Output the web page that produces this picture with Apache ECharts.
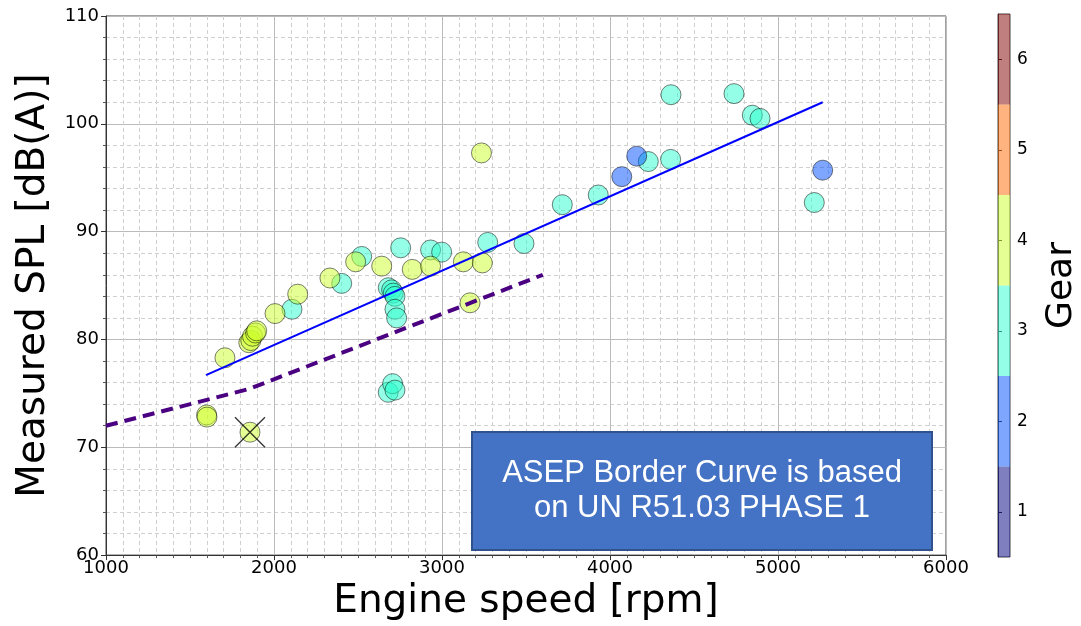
<!DOCTYPE html>
<html>
<head>
<meta charset="utf-8">
<script src="https://cdn.jsdelivr.net/npm/echarts@6/dist/echarts.min.js"></script>
<style>
  html, body { margin: 0; padding: 0; background: #fff; }
  #chart { width: 1081px; height: 626px; }
</style>
</head>
<body>
<div id="chart"></div>
<script>
// measured points, split by gear
var gear2Rpm = [4070, 4159, 5266]
var gear2Spl = [95.1, 97.0, 95.7]

var gear3Rpm = [2107, 2403, 2522, 2680, 2700, 2710, 2720, 2720, 2730, 2754, 2932, 2998, 3272, 3488,
  2680, 2706, 2720, 3716, 3930, 4228, 4361, 4363, 4738, 4847, 4893, 5216]
var gear3Spl = [82.8, 85.2, 87.7, 84.8, 84.6, 84.3, 84.0, 82.8, 82.0, 88.5, 88.3, 88.1, 89.0, 88.9,
  75.1, 75.9, 75.3, 92.5, 93.4, 96.5, 96.7, 102.7, 102.8, 100.8, 100.5, 92.7]

var gear4Rpm = [1599, 1601, 1857, 1708, 1850, 1862, 1872, 1890, 1897, 2006, 2141, 2333, 2486, 2641,
  2823, 2932, 3127, 3167, 3235, 3240]
var gear4Spl = [73.0, 72.8, 71.4, 78.3, 79.7, 79.9, 80.3, 80.6, 80.8, 82.4, 84.2, 85.7, 87.2, 86.8,
  86.5, 86.8, 87.2, 83.4, 97.3, 87.1]

// regression line and ASEP border curve
var trendRpm = [1595, 5266]
var trendSpl = [76.7, 102.0]
var borderRpm = [1000, 1850, 3600]
var borderSpl = [72.0, 75.4, 86.0]

// excluded point
var markerRpm = [1857]
var markerSpl = [71.4]

// colour bar levels
var gearLevels = [1, 2, 3, 4, 5, 6]
var gearColors = ['#000080', '#004dff', '#29ffce', '#ceff29', '#ff6800', '#800000']

function pairs(xs, ys) {
  return xs.map(function (x, i) { return [x, ys[i]] })
}

var chart = echarts.init(document.getElementById('chart'))

var font = 'DejaVu Sans'

function pointSeries(name, xs, ys, gear) {
  return {
    name: name,
    type: 'scatter',
    xAxisIndex: 0,
    yAxisIndex: 0,
    symbolSize: 20,
    data: pairs(xs, ys),
    itemStyle: {
      color: gearColors[gear - 1],
      borderColor: '#000',
      borderWidth: 1,
      opacity: 0.5
    },
    z: 2
  }
}

chart.setOption({
  backgroundColor: '#fff',
  animation: false,
  grid: [{
    left: 106,
    top: 16,
    width: 840,
    height: 543,
    show: true,
    borderColor: '#444',
    borderWidth: 1
  }, {
    left: 998,
    top: 14,
    width: 26,
    height: 543,
    show: true,
    borderColor: '#444',
    borderWidth: 1
  }],
  xAxis: [{
    gridIndex: 0,
    type: 'value',
    min: 1000,
    max: 6000,
    interval: 1000,
    name: 'Engine speed [rpm]',
    nameLocation: 'middle',
    nameGap: 26,
    nameTextStyle: { fontFamily: font, fontSize: 39, color: '#000' },
    axisLine: { show: true, lineStyle: { color: '#333', width: 1 } },
    axisTick: { show: true, length: 5, lineStyle: { color: '#333' } },
    minorTick: { show: true, splitNumber: 10, length: 3, lineStyle: { color: '#555' } },
    axisLabel: {
      fontFamily: font, fontSize: 18, color: '#000', margin: 4,
      formatter: function (v) { return String(v) }
    },
    splitLine: { show: true, lineStyle: { color: '#bbb', width: 1 } },
    minorSplitLine: { show: true, lineStyle: { color: '#d0d0d0', type: [4, 3], width: 1 } }
  }, {
    gridIndex: 1,
    type: 'value',
    min: 0,
    max: 1,
    show: false
  }],
  yAxis: [{
    gridIndex: 0,
    type: 'value',
    min: 60,
    max: 110,
    interval: 10,
    name: 'Measured SPL [dB(A)]',
    nameLocation: 'middle',
    nameGap: 46,
    nameTextStyle: { fontFamily: font, fontSize: 39, color: '#000' },
    axisLine: { show: true, lineStyle: { color: '#333', width: 1 } },
    axisTick: { show: true, length: 5, lineStyle: { color: '#333' } },
    minorTick: { show: true, splitNumber: 5, length: 3, lineStyle: { color: '#555' } },
    axisLabel: { fontFamily: font, fontSize: 18, color: '#000', margin: 7 },
    splitLine: { show: true, lineStyle: { color: '#bbb', width: 1 } },
    minorSplitLine: { show: true, lineStyle: { color: '#d0d0d0', type: [4, 3], width: 1 } }
  }, {
    gridIndex: 1,
    type: 'value',
    position: 'right',
    min: 0.5,
    max: 6.5,
    name: 'Gear',
    nameLocation: 'middle',
    nameRotate: 90,
    nameGap: 34,
    nameTextStyle: { fontFamily: font, fontSize: 36, color: '#000' },
    axisLine: { show: true, lineStyle: { color: '#444' } },
    axisTick: { show: true, length: 4, customValues: gearLevels, lineStyle: { color: '#333' } },
    axisLabel: { fontFamily: font, fontSize: 17, color: '#000', margin: 7, customValues: gearLevels },
    splitLine: { show: false }
  }],
  graphic: [{
    type: 'group',
    left: 471,
    top: 431,
    children: [{
      type: 'rect',
      z: 100,
      shape: { x: 0, y: 0, width: 460, height: 118 },
      style: { fill: '#4472c4', stroke: '#2f528f', lineWidth: 2 }
    }, {
      type: 'text',
      z: 101,
      x: 230,
      y: 59,
      style: {
        text: 'ASEP Border Curve is based\non UN R51.03 PHASE 1',
        fill: '#fff',
        font: '31px "Liberation Sans", Arial, sans-serif',
        lineHeight: 35,
        align: 'center',
        verticalAlign: 'middle'
      }
    }]
  }],
  series: [
    pointSeries('Gear 3', gear3Rpm, gear3Spl, 3),
    pointSeries('Gear 4', gear4Rpm, gear4Spl, 4),
    pointSeries('Gear 2', gear2Rpm, gear2Spl, 2),
    {
      name: 'Excluded',
      type: 'scatter',
      symbol: 'path://M0,0L10,10M10,0L0,10',
      symbolSize: 30,
      data: pairs(markerRpm, markerSpl),
      itemStyle: { color: 'none', borderColor: '#000', borderWidth: 1.3 },
      z: 4
    },
    {
      name: 'Trend',
      type: 'line',
      data: pairs(trendRpm, trendSpl),
      showSymbol: false,
      lineStyle: { color: '#0000ff', width: 2 },
      z: 3
    },
    {
      name: 'ASEP border',
      type: 'line',
      data: pairs(borderRpm, borderSpl),
      showSymbol: false,
      lineStyle: { color: '#4b0082', width: 4, type: [12, 7] },
      z: 3
    },
    {
      name: 'Colour bar',
      type: 'custom',
      xAxisIndex: 1,
      yAxisIndex: 1,
      data: gearLevels,
      renderItem: function (params, api) {
        var g = api.value(0)
        var p0 = api.coord([0, g + 0.5])
        var p1 = api.coord([1, g - 0.5])
        return {
          type: 'rect',
          shape: { x: p0[0], y: p0[1], width: p1[0] - p0[0], height: p1[1] - p0[1] },
          style: { fill: gearColors[g - 1], opacity: 0.5 }
        }
      },
      encode: { y: 0 },
      z: 1
    }
  ]
})
</script>
</body>
</html>
